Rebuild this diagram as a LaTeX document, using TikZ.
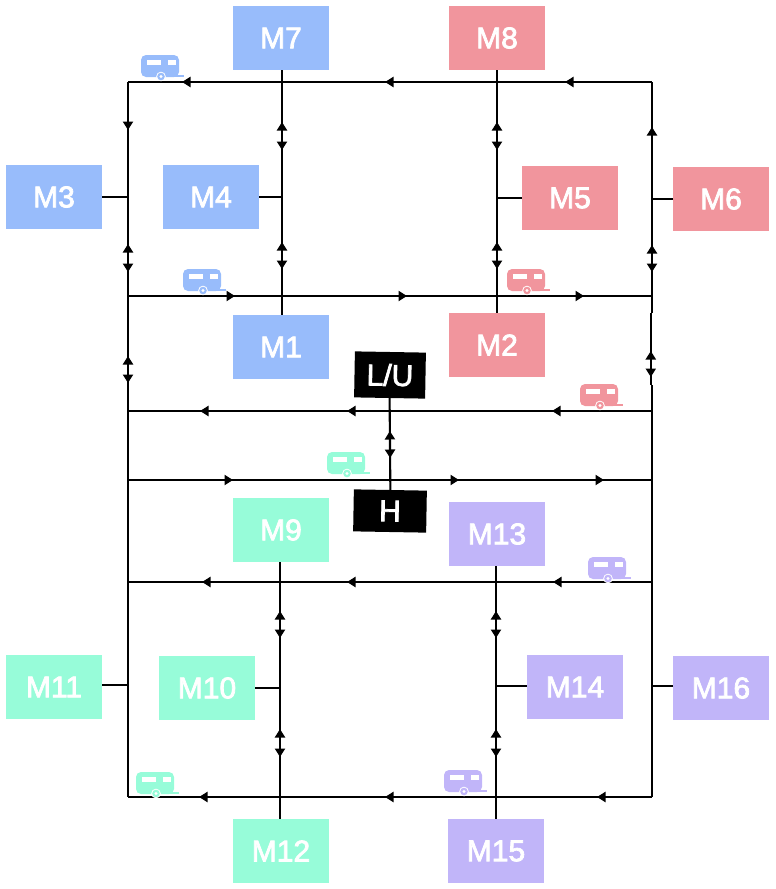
\documentclass[tikz,border=0pt]{standalone}
\usepackage{fontspec}
\newfontfamily\machinefont[FakeBold=2.5]{Liberation Sans}
\usetikzlibrary{arrows.meta, decorations.markings}
\definecolor{planeblue}{HTML}{98BCFB}
\definecolor{planered}{HTML}{F1959D}
\definecolor{planeteal}{HTML}{97FCD9}
\definecolor{planepurple}{HTML}{C1B5F9}
\tikzset{
  machine/.style={rectangle, fill=#1, text=white, minimum width=96pt, minimum height=64pt,
      inner sep=0pt, outer sep=0pt, font=\machinefont\fontsize{30}{32}\selectfont},
  station/.style={rectangle, fill=black, text=white, inner sep=0pt, outer sep=0pt, rotate=-1,
      font=\machinefont\fontsize{30}{32}\selectfont},
  stub/.style={line width=1.7pt},
  fwdtip/.style={postaction={decorate, decoration={markings, mark=at position #1pt with {\arrow{>}}}}},
  revtip/.style={postaction={decorate, decoration={markings, mark=at position #1pt with {\arrowreversed{>}}}}},
  caravan/.pic={
    \fill[#1, rounded corners=5pt] (0,0) rectangle (38,22);
    \fill[#1] (32,19.5) rectangle (43,21.5);
    \fill[white] (6,5) rectangle (20,10);
    \fill[white] (27,5) rectangle (35,10);
    \fill[white] (20,21.5) circle (4.8);
    \fill[#1] (20,21.5) circle (3.8);
    \fill[white] (20,21.5) circle (1.6);
  }
}
\begin{document}
\begin{tikzpicture}[x=1pt, y=-1pt, line width=2.1pt, >={Triangle[length=8.5pt, width=10pt]}]
    \useasboundingbox (0,0) rectangle (776,889);
    % machines
    \node[machine=planeblue] (m7) at (281,38) {M7};
    \node[machine=planered] (m8) at (497,38) {M8};
    \node[machine=planeblue] (m3) at (54,197) {M3};
    \node[machine=planeblue] (m4) at (211,197) {M4};
    \node[machine=planered] (m5) at (570,198) {M5};
    \node[machine=planered] (m6) at (721,199) {M6};
    \node[machine=planeblue] (m1) at (281,347) {M1};
    \node[machine=planered] (m2) at (497,345) {M2};
    \node[machine=planeteal] (m9) at (281,530) {M9};
    \node[machine=planepurple] (m13) at (497,534) {M13};
    \node[machine=planeteal] (m11) at (54,687) {M11};
    \node[machine=planeteal] (m10) at (207,688) {M10};
    \node[machine=planepurple] (m14) at (575,687) {M14};
    \node[machine=planepurple] (m16) at (721,688) {M16};
    \node[machine=planeteal] (m12) at (281,851) {M12};
    \node[machine=planepurple] (m15) at (496,851) {M15};
    \node[station, minimum width=71pt, minimum height=46pt] (lu) at (390,375) {L/U};
    \node[station, minimum width=73pt, minimum height=42pt] (h) at (390,511) {H};
    % free ends of the loops
    \foreach \row/\y in {top/82, a/296, b/411, c/480, d/582, bot/797} {
      \coordinate (l\row) at (128,\y);
      \coordinate (r\row) at (652,\y);
    }
    \coordinate (rgapa) at (652,313);
    \coordinate (rgapb) at (652,385);
    \coordinate (rsidea) at (650.8,313);
    \coordinate (rsideb) at (650.8,385);
    \foreach \from/\to/\y in {m3/128/197, m4/282/197, m5/497/198, m6/652/199,
                              m11/128/685, m10/280/688, m14/496/686, m16/652/686} {
      \coordinate (j\from) at (\to,\y);
    }
    % loops
    \draw[fwdtip/.list={87,267,470}] (rtop) -- (ltop);
    \draw[fwdtip/.list={107,279,456}] (la) -- (ra);
    \draw[fwdtip/.list={100,305,452}] (rb) -- (lb);
    \draw[fwdtip/.list={105,331,476}] (lc) -- (rc);
    \draw[fwdtip/.list={99,305,450}] (rd) -- (ld);
    \draw[fwdtip/.list={55,267,453}] (rbot) -- (lbot);
    % outer sides
    \draw[fwdtip/.list={48,190,301}, revtip/.list={162,274}] (ltop) -- (lbot);
    \draw[revtip/.list={45,163}, fwdtip=190] (rtop) -- (rgapa);
    \draw[revtip=38, fwdtip=64] (rsidea) -- (rsideb);
    \draw (rgapb) -- (rbot);
    % aisles
    \draw[revtip/.list={52,172}, fwdtip/.list={80,199}] (m7.south -| jm4) -- (m1.north -| jm4);
    \draw[revtip/.list={52,172}, fwdtip/.list={80,199}] (m8.south -| jm5) -- (m2.north -| jm5);
    \draw[revtip/.list={49,167}, fwdtip/.list={76,195}] (m9.south -| jm10) -- (m12.north -| jm10);
    \draw[revtip/.list={45,163}, fwdtip/.list={72,191}] (m13.south -| jm14) -- (m15.north -| jm14);
    \draw[revtip=33, fwdtip=60] (lu.south) -- (h.north);
    % stubs
    \foreach \from in {m3,m4,m11,m10} {
      \draw[stub] (\from.east |- j\from) -- (j\from);
    }
    \foreach \from in {m5,m6,m14,m16} {
      \draw[stub] (\from.west |- j\from) -- (j\from);
    }
    % caravans
    \pic at (141,55) {caravan=planeblue};
    \pic at (183,269) {caravan=planeblue};
    \pic at (507,269) {caravan=planered};
    \pic at (580,384) {caravan=planered};
    \pic at (327,452) {caravan=planeteal};
    \pic at (588,557) {caravan=planepurple};
    \pic at (136,772) {caravan=planeteal};
    \pic at (444,770) {caravan=planepurple};
\end{tikzpicture}
\end{document}
